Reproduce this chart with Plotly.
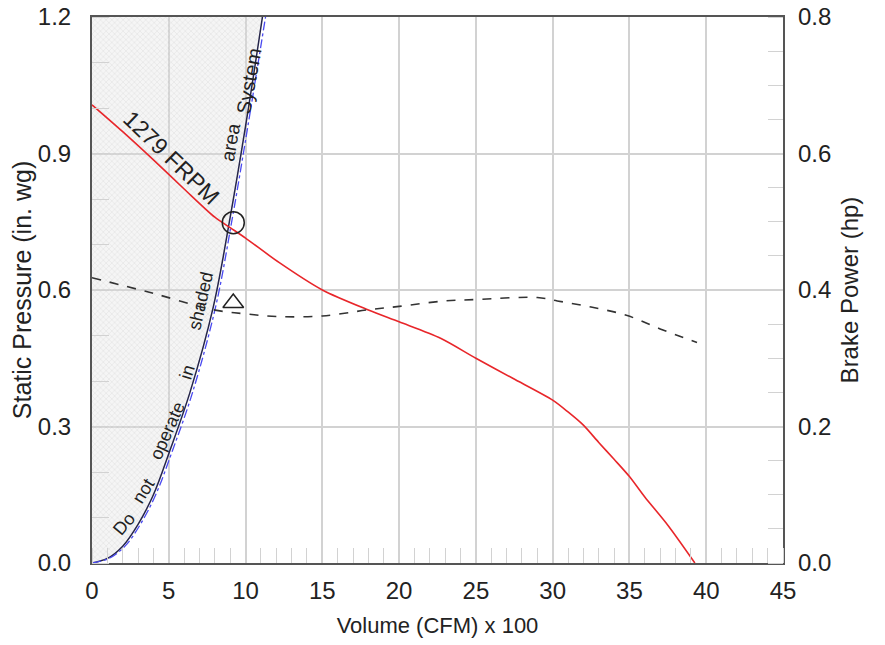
import plotly.graph_objects as go

# ---- data ----
fan_x = [0, 2, 4, 6, 8, 9, 10, 12.2, 15, 18, 20, 22.7, 25, 27.4, 30, 31, 32, 33, 34, 35, 36, 37.5, 39.26]
fan_sp = [1.007, 0.948, 0.886, 0.822, 0.76, 0.737, 0.714, 0.66, 0.60, 0.556, 0.53, 0.494, 0.45,
          0.406, 0.358, 0.332, 0.303, 0.265, 0.228, 0.19, 0.145, 0.083, 0.0]

bhp_x = [0, 4, 7.9, 10, 12.2, 15, 18, 20, 23, 25, 29, 30.3, 32.5, 34.8, 37, 39.4]
bhp = [0.418, 0.395, 0.371, 0.365, 0.361, 0.362, 0.371, 0.376, 0.384, 0.386, 0.389, 0.384,
       0.375, 0.363, 0.343, 0.323]

sys_x = [0, 1, 2, 3, 4, 5.08, 6.38, 7.9, 9, 10, 11.1]
sys_sp = [0, 0.01, 0.037, 0.085, 0.15, 0.248, 0.375, 0.563, 0.76, 0.96, 1.2]

bound_x = [0, 1.1, 2.15, 3.15, 4.15, 5.25, 6.55, 8.05, 9.15, 10.15, 11.3]
bound_sp = [0, 0.01, 0.037, 0.085, 0.15, 0.248, 0.375, 0.563, 0.76, 0.96, 1.2]

op_x = [9.2]
op_sp = [0.748]
op_bhp = [0.381]

x_ticks = [0, 5, 10, 15, 20, 25, 30, 35, 40, 45]
y_ticks = [0.0, 0.3, 0.6, 0.9, 1.2]
y2_ticks = [0.0, 0.2, 0.4, 0.6, 0.8]

FONT = "Liberation Sans"
TXT = "#222222"
GRID = "#d2d2d2"
FRAME = "#555555"

fig = go.Figure()

# shaded "do not operate" region, left of the system curve
fig.add_trace(go.Scatter(
    x=sys_x, y=sys_sp, mode="lines", fill="tozerox",
    fillcolor="rgba(200,200,200,0.35)",
    fillpattern=dict(shape="x", size=4, solidity=0.25, fgcolor="rgba(150,150,150,0.5)",
                     bgcolor="rgba(225,225,225,0.35)"),
    line=dict(color="#25254a", width=1.5, shape="spline"), hoverinfo="skip", showlegend=False))

fig.add_trace(go.Scatter(
    x=bound_x, y=bound_sp, mode="lines",
    line=dict(color="#4a4af0", width=1.3, dash="dashdot", shape="spline"), showlegend=False))

fig.add_trace(go.Scatter(
    x=fan_x, y=fan_sp, mode="lines", line=dict(color="#e8262a", width=1.6, shape="spline",
                                               smoothing=0.8),
    showlegend=False))

fig.add_trace(go.Scatter(
    x=bhp_x, y=bhp, mode="lines", yaxis="y2",
    line=dict(color="#333333", width=1.6, dash="dash", shape="spline"), showlegend=False))

fig.add_trace(go.Scatter(
    x=op_x, y=op_sp, mode="markers",
    marker=dict(symbol="circle-open", size=22, color="#222222", line=dict(width=1.5)),
    showlegend=False))

fig.add_trace(go.Scatter(
    x=op_x, y=op_bhp, mode="markers", yaxis="y2",
    marker=dict(symbol="triangle-up-open", size=18, color="#222222", line=dict(width=1.5)),
    showlegend=False))

annos = [
    ("1279 FRPM", 5.2, 0.89, 44, 23),
    ("System", 10.2, 1.06, -80, 20),
    ("area", 9.0, 0.925, -80, 19),
    ("Do", 2.1, 0.085, -50, 18),
    ("not", 3.35, 0.158, -58, 18),
    ("operate", 4.9, 0.29, -66, 18),
    ("in", 6.2, 0.42, -72, 18),
    ("shaded", 7.1, 0.575, -77, 18),
]
for t, ax_, ay_, ang, sz in annos:
    fig.add_annotation(x=ax_, y=ay_, xref="x", yref="y", text=t, showarrow=False,
                       textangle=ang, font=dict(family=FONT, size=sz, color=TXT))

fig.update_layout(
    width=885, height=645, autosize=False,
    margin=dict(l=84, r=110, t=9, b=90, autoexpand=False),
    paper_bgcolor="white", plot_bgcolor="white",
    font=dict(family=FONT, size=22, color=TXT),
    xaxis=dict(range=[0, 45], tickvals=x_ticks, ticktext=[str(v) for v in x_ticks],
               showgrid=True, gridcolor=GRID, gridwidth=1.5, zeroline=False,
               showline=True, linecolor=FRAME, linewidth=2, mirror=True,
               ticks="", ticklabelstandoff=5, automargin=False, ticklabeloverflow="allow",
               minor=dict(dtick=1, ticks="inside", ticklen=15, tickcolor=GRID, tickwidth=1.2,
                          showgrid=False),
               tickfont=dict(size=24),
               title=dict(text="Volume (CFM) x 100", font=dict(size=22), standoff=15)),
    yaxis=dict(range=[0, 1.2], tickvals=y_ticks, ticktext=[f"{v:.1f}" for v in y_ticks],
               showgrid=True, gridcolor=GRID, gridwidth=1.5, zeroline=False,
               showline=True, linecolor=FRAME, linewidth=2, mirror=True,
               ticks="", ticklabelstandoff=14, automargin=False, ticklabeloverflow="allow",
               minor=dict(dtick=0.1, ticks="inside", ticklen=17, tickcolor=GRID, tickwidth=1.2,
                          showgrid=False),
               tickfont=dict(size=24),
               title=dict(text="Static Pressure (in. wg)", font=dict(size=25), standoff=2)),
    yaxis2=dict(range=[0, 0.8], overlaying="y", side="right", tickvals=y2_ticks,
                ticktext=[f"{v:.1f}" for v in y2_ticks], showgrid=False, zeroline=False,
                ticks="", ticklabelstandoff=14, automargin=False, ticklabeloverflow="allow",
                minor=dict(dtick=0.05, ticks="inside", ticklen=15, tickcolor=GRID, tickwidth=1.2),
                tickfont=dict(size=24),
                title=dict(text="Brake Power (hp)", font=dict(size=24), standoff=10)),
)

fig.write_html("out.html")
